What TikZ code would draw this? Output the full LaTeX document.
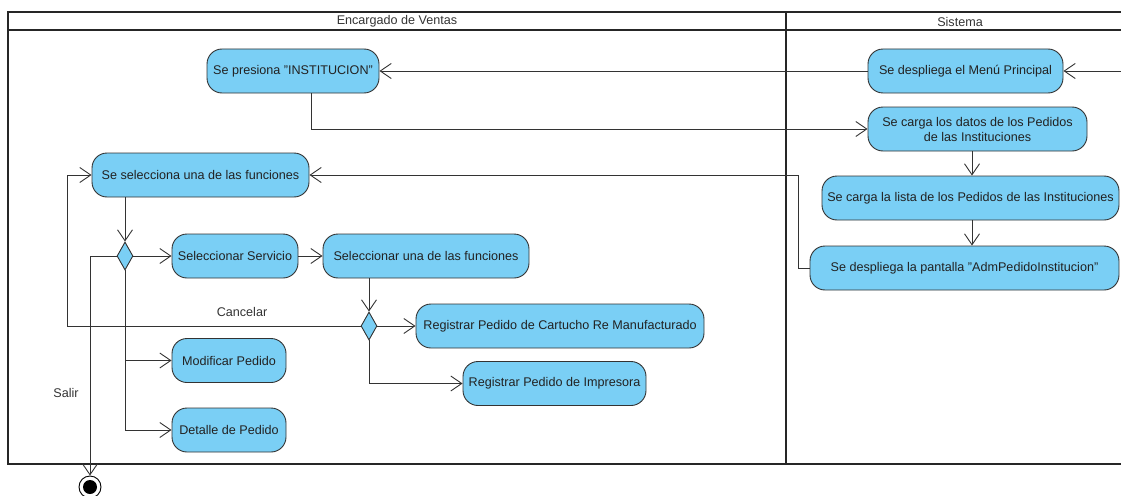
\documentclass[tikz,border=0pt]{standalone}
\usepackage{fontspec}
\setmainfont{Liberation Sans}
\usetikzlibrary{arrows.meta,shapes.geometric,calc}
\definecolor{actfill}{HTML}{7ACFF5}
\definecolor{edgec}{HTML}{333333}
\definecolor{txtc}{HTML}{222222}
\begin{document}
\begin{tikzpicture}[x=1pt,y=-1pt,
  act/.style={draw=edgec,line width=0.9pt,fill=actfill,rounded corners=15pt,
    inner sep=1pt,align=center,text=txtc,font=\fontsize{12.6}{15}\selectfont},
  dec/.style={draw=edgec,line width=0.9pt,fill=actfill,diamond,inner sep=0pt,
    minimum width=16pt,minimum height=28pt},
  flow/.style={draw=edgec,line width=0.9pt,-{Straight Barb[length=11pt,width=15pt,line width=0.9pt]}},
  lbl/.style={text=edgec,font=\fontsize{12.6}{15}\selectfont},
  frame/.style={draw=black!85,line width=2pt}]
\useasboundingbox (0,0) rectangle (1121,495);
% swimlane frame
\draw[frame] (1125,12) -- (8,12) -- (8,464) -- (1125,464);
\draw[frame] (8,30) -- (1125,30);
\draw[frame] (786,12) -- (786,464);
\node[lbl] (laneA) at (397,21.5) {Encargado de Ventas};
\node[lbl] (laneB) at (960,21.5) {Sistema};
% activities
\node[act,minimum width=172pt,minimum height=44pt] (A) at (293,71) {Se presiona "INSTITUCION"};
\node[act,minimum width=195pt,minimum height=44pt] (B) at (965.5,71) {Se despliega el Menú Principal};
\node[act,minimum width=219pt,minimum height=44pt] (C) at (977.5,129) {Se carga los datos de los Pedidos\\de las Instituciones};
\node[act,minimum width=297pt,minimum height=44pt] (D) at (970.5,198) {Se carga la lista de los Pedidos de las Instituciones};
\node[act,minimum width=309pt,minimum height=44pt] (E) at (964.5,268) {Se despliega la pantalla "AdmPedidoInstitucion"};
\node[act,minimum width=217pt,minimum height=44pt] (F) at (200.5,175) {Se selecciona una de las funciones};
\node[dec] (G) at (125,256) {};
\node[act,minimum width=126pt,minimum height=44pt] (S) at (235,256) {Seleccionar Servicio};
\node[act,minimum width=206pt,minimum height=44pt] (T) at (426,256) {Seleccionar una de las funciones};
\node[dec] (H) at (369,326) {};
\node[act,minimum width=288pt,minimum height=44pt] (R1) at (560,326) {Registrar Pedido de Cartucho Re Manufacturado};
\node[act,minimum width=183pt,minimum height=44pt] (R2) at (554.5,383.5) {Registrar Pedido de Impresora};
\node[act,minimum width=114pt,minimum height=44pt] (M) at (229,360.5) {Modificar Pedido};
\node[act,minimum width=114pt,minimum height=44pt] (Dt) at (229,430) {Detalle de Pedido};
% final node
\node[circle,draw=black,line width=0.9pt,fill=white,minimum size=22pt,inner sep=0pt] (fin) at (90,487) {};
\fill[black] (fin.center) circle (7pt);
% helper coordinates
\coordinate (start) at (1125,71);
\coordinate (xA) at (311,0);
\coordinate (xC) at (972,0);
\coordinate (xE) at (798,0);
\coordinate (xCan) at (67,0);
% flows
\draw[flow] (start) -- (B.east);
\draw[flow] (B.west) -- (A.east);
\draw[flow] (A.south -| xA) |- (C.west);
\draw[flow] (C.south -| xC) -- (D.north -| xC);
\draw[flow] (D.south -| xC) -- (E.north -| xC);
\draw[flow] (E.west) -- (E.west -| xE) |- (F.east);
\draw[flow] (G.north |- F.south) -- (G.north);
\draw[flow] (G.east) -- (S.west);
\draw[flow] (S.east) -- (T.west);
\draw[flow] (H.north |- T.south) -- (H.north);
\draw[flow] (H.east) -- (R1.west);
\draw[flow] (H.south) |- (R2.west);
\draw[flow] (H.west) -- (H.west -| xCan) |- (F.west);
\draw[flow] (G.south) |- (M.west);
\draw[flow] (G.south) |- (Dt.west);
\draw[flow] (G.west) -| (fin.north);
% guard labels
\node[lbl] (lcan) at (242,312) {Cancelar};
\node[lbl] (lsal) at (66,393) {Salir};
\end{tikzpicture}
\end{document}
